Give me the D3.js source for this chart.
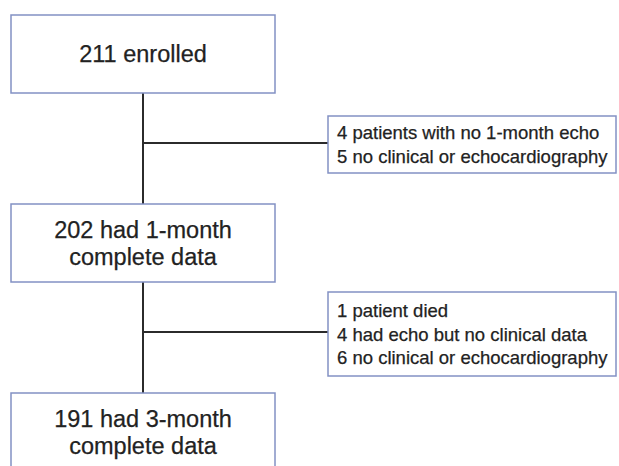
<!DOCTYPE html>
<html>
<head>
<meta charset="utf-8">
<script src="https://cdn.jsdelivr.net/npm/d3@7"></script>
<style>
  body { margin: 0; background: #fff; }
  text { font-family: Arial, "Liberation Sans", Helvetica, sans-serif; fill: #222; stroke: #222; stroke-width: 0.25px; }
</style>
</head>
<body>
<div id="flow"></div>
<script>
// flow steps (main column)
const stepLabels = [
    ["211 enrolled"],
    ["202 had 1-month", "complete data"],
    ["191 had 3-month", "complete data"]
];
// exclusions between steps
const exclusionLabels = [
    ["4 patients with no 1-month echo", "5 no clinical or echocardiography"],
    ["1 patient died", "4 had echo but no clinical data", "6 no clinical or echocardiography"]
];

const width = 619, height = 466;

const svg = d3.select("#flow")
    .append("svg")
    .attr("width", width)
    .attr("height", height);

// layout
const mainBox = {x: 11, w: 264, h: 78};
const stepTop = [15, 204, 393];
const sideBox = {x: 328, w: 288};
const sideTop = [116, 292];
const sideH = [57, 84];
const branchY = [143, 332];
const cx = mainBox.x + mainBox.w / 2;

const lineColor = "#2b2b2b";
const boxColor = "#8391c4";

// vertical connectors
for (let i = 0; i < stepTop.length - 1; i++) {
    svg.append("line")
        .attr("x1", cx).attr("x2", cx)
        .attr("y1", stepTop[i] + mainBox.h)
        .attr("y2", stepTop[i + 1])
        .attr("stroke", lineColor)
        .attr("stroke-width", 2);
}

// horizontal branches
branchY.forEach(function (y) {
    svg.append("line")
        .attr("x1", cx).attr("x2", sideBox.x)
        .attr("y1", y).attr("y2", y)
        .attr("stroke", lineColor)
        .attr("stroke-width", 2);
});

// main boxes
const steps = svg.selectAll(".step")
    .data(stepLabels)
    .join("g")
    .attr("class", "step")
    .attr("transform", (d, i) => `translate(${mainBox.x}, ${stepTop[i]})`);

steps.append("rect")
    .attr("width", mainBox.w)
    .attr("height", mainBox.h)
    .attr("fill", "#fff")
    .attr("stroke", boxColor)
    .attr("stroke-width", 1.5);

steps.each(function (d) {
    const lh = 27;
    const first = mainBox.h / 2 + 8 - (d.length - 1) * lh / 2;
    d3.select(this).selectAll("text")
        .data(d)
        .join("text")
        .attr("x", mainBox.w / 2)
        .attr("y", (t, j) => first + j * lh)
        .attr("text-anchor", "middle")
        .style("font-size", "23.5px")
        .text(t => t);
});

// exclusion boxes
const sides = svg.selectAll(".side")
    .data(exclusionLabels)
    .join("g")
    .attr("class", "side")
    .attr("transform", (d, i) => `translate(${sideBox.x}, ${sideTop[i]})`);

sides.append("rect")
    .attr("width", sideBox.w)
    .attr("height", (d, i) => sideH[i])
    .attr("fill", "#fff")
    .attr("stroke", boxColor)
    .attr("stroke-width", 1.5);

sides.each(function (d, i) {
    const lh = 23.5;
    const first = sideH[i] / 2 + 6.5 - (d.length - 1) * lh / 2;
    d3.select(this).selectAll("text")
        .data(d)
        .join("text")
        .attr("x", 9)
        .attr("y", (t, j) => first + j * lh)
        .style("font-size", "18.5px")
        .text(t => t);
});
</script>
</body>
</html>
